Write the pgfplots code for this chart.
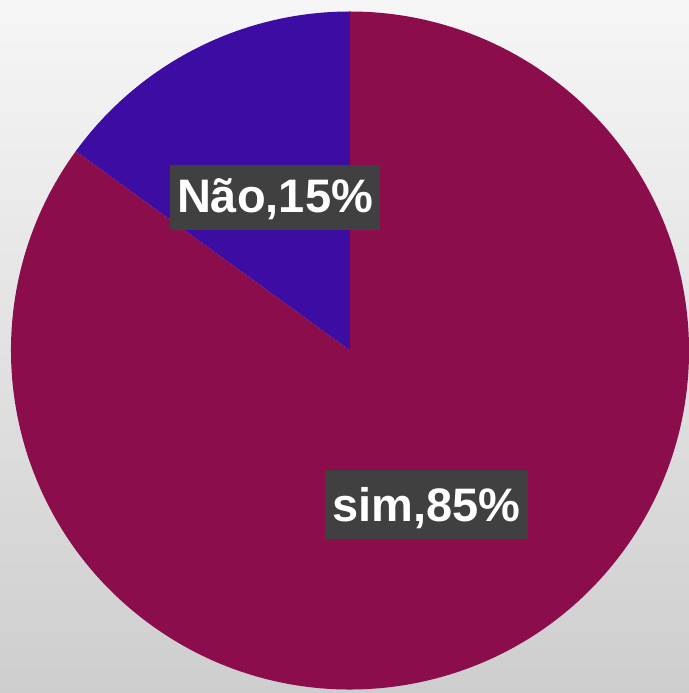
\documentclass[border=0pt]{standalone}
\usepackage{pgfplots}
\usepackage{pgfplotstable}
\pgfplotsset{compat=1.18}
\usepackage{fontspec}
\setmainfont{Liberation Sans}
\definecolor{simcol}{RGB}{139,13,75}
\definecolor{naocol}{RGB}{61,13,163}
\definecolor{boxcol}{RGB}{64,64,64}
\definecolor{bgtop}{RGB}{246,246,246}
\definecolor{bgbot}{RGB}{206,206,206}
\pgfplotstableread{
label value
sim 85
Nao 15
}\piedata
\begin{document}
\begin{tikzpicture}
\begin{axis}[
  width=689bp, height=693bp, scale only axis,
  xmin=0, xmax=689, ymin=0, ymax=693,
  hide axis,
  clip=false,
]
\pgfplotstablegetelem{0}{value}\of\piedata \let\simv\pgfplotsretval
\pgfplotstablegetelem{1}{value}\of\piedata \let\naov\pgfplotsretval
\pgfmathsetmacro{\aA}{90}
\pgfmathsetmacro{\aB}{90+3.6*\naov}
\pgfmathsetmacro{\aC}{\aB+3.6*\simv}
\shade[top color=bgtop, bottom color=bgbot] (axis cs:0,0) rectangle (axis cs:689,693);
\fill[naocol] (axis cs:350,342.5) -- ([shift={(\aA:339bp)}]axis cs:350,342.5)
   arc[start angle=\aA, end angle=\aB, radius=339bp] -- cycle;
\fill[simcol] (axis cs:350,342.5) -- ([shift={(\aB:339bp)}]axis cs:350,342.5)
   arc[start angle=\aB, end angle=\aC, radius=339bp] -- cycle;
\node[anchor=base, fill=boxcol, text=white, inner xsep=0pt, inner ysep=0pt,
  minimum width=210bp, text height=48bp, text depth=17bp,
  font=\fontsize{47bp}{56bp}\selectfont\bfseries] at (axis cs:275,480) {Não,15\%};
\node[anchor=base, fill=boxcol, text=white, inner xsep=0pt, inner ysep=0pt,
  minimum width=203bp, text height=52bp, text depth=17bp,
  font=\fontsize{47bp}{56bp}\selectfont\bfseries] at (axis cs:426.5,171) {sim,85\%};
\end{axis}
\pgfresetboundingbox
\path[use as bounding box] (current axis.south west) rectangle (current axis.north east);
\end{tikzpicture}
\end{document}
